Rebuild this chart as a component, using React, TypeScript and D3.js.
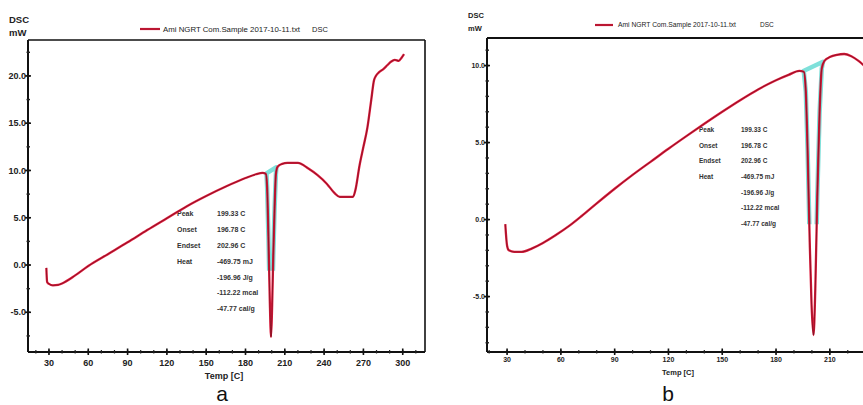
import React from "react";
import * as d3 from "d3";

// ---------- Data ----------
const tempsA = [28, 28.6, 30, 33, 37, 40, 50, 60, 75, 90, 105, 120, 135, 150, 165, 180, 188, 193, 195.5, 196.5, 197.5, 198.5, 199.5, 200.3, 201.2, 202.2, 203.2, 204.5, 208, 212, 220, 228, 235, 242, 248, 252, 258, 262, 264, 267, 270, 273, 276, 278, 279.5, 282, 285, 288, 291, 294, 297, 299, 301];
const valuesA = [-0.3, -1.8, -2.0, -2.15, -2.1, -1.95, -1.1, -0.1, 1.15, 2.4, 3.7, 4.95, 6.2, 7.3, 8.3, 9.2, 9.6, 9.75, 9.65, 8.2, 3.0, -3.5, -7.6, -4.5, 1.0, 6.0, 9.6, 10.4, 10.7, 10.8, 10.8, 10.2, 9.5, 8.6, 7.6, 7.2, 7.2, 7.2, 8.0, 10.5, 12.5, 14.5, 17.5, 19.5, 20.0, 20.4, 20.7, 21.1, 21.5, 21.7, 21.6, 21.9, 22.3];
const baseA_t = [196.0, 203.6];
const baseA_v = [9.7, 10.35];

const tempsB = [29, 30, 31, 34, 38, 44, 50, 57, 65, 72, 80, 90, 100, 110, 120, 130, 140, 150, 160, 170, 180, 187, 193, 195.5, 196.6, 197.6, 198.8, 199.8, 200.9, 201.9, 203, 204.3, 205.5, 207, 210, 214, 218, 222, 226, 230];
const valuesB = [-0.3, -1.7, -2.0, -2.1, -2.1, -1.87, -1.52, -1.02, -0.38, 0.27, 1.05, 2.0, 2.9, 3.75, 4.6, 5.42, 6.22, 7.0, 7.75, 8.45, 9.05, 9.4, 9.65, 9.6, 8.3, 4.5, -1.5, -5.5, -7.5, -4.5, 1.5, 7.0, 9.8, 10.3, 10.55, 10.7, 10.75, 10.6, 10.3, 9.9];
const baseB_t = [195.3, 206.2];
const baseB_v = [9.65, 10.25];

const xTicksA = [30, 60, 90, 120, 150, 180, 210, 240, 270, 300];
const yTicksA = [20, 15, 10, 5, 0, -5];
const yTickLabelsA = ["20.0", "15.0", "10.0", "5.0", "0.0", "-5.0"];
const xTicksB = [30, 60, 90, 120, 150, 180, 210];
const yTicksB = [10, 5, 0, -5];
const yTickLabelsB = ["10.0", "5.0", "0.0", "-5.0"];

const annLabels = ["Peak", "Onset", "Endset", "Heat"];
const annValues = ["199.33 C", "196.78 C", "202.96 C", "-469.75 mJ", "-196.96 J/g", "-112.22 mcal", "-47.77 cal/g"];

const legendText = "Ami NGRT Com.Sample 2017-10-11.txt";

// ---------- Layout ----------
const FONT = "Liberation Sans, Arial, sans-serif";

type PanelCfg = {
  id: string;
  temps: number[];
  values: number[];
  baseT: number[];
  baseV: number[];
  xTicks: number[];
  yTicks: number[];
  yLabels: string[];
  xDomain: [number, number];
  yDomain: [number, number];
  left: number; right: number; top: number; bottom: number;
  frameRight: boolean;
  tickFont: number;
  xMinorStep: number;
  yMinorStep: number;
  dsc: { x: number; y1: number; y2: number; size: number };
  legend: { x1: number; x2: number; y: number; tx: number; tlen: number; dscX: number; size: number };
  axisTitle: { x: number; y: number; size: number };
  letter: { ch: string; x: number; y: number };
  ann: { lx: number; vx: number; y0: number; dy: number; size: number };
  cyanCut: number;
  xLabelY: number;
};

const panels: PanelCfg[] = [
  {
    id: "a",
    temps: tempsA, values: valuesA, baseT: baseA_t, baseV: baseA_v,
    xTicks: xTicksA, yTicks: yTicksA, yLabels: yTickLabelsA,
    xDomain: [14, 317], yDomain: [-9.2, 23.8],
    left: 28, right: 425, top: 40, bottom: 352, frameRight: true,
    tickFont: 9, xMinorStep: 10, yMinorStep: 2.5,
    dsc: { x: 9, y1: 23, y2: 36, size: 9.5 },
    legend: { x1: 140, x2: 160, y: 29, tx: 163, tlen: 137, dscX: 312, size: 7.5 },
    axisTitle: { x: 224, y: 379, size: 9 },
    letter: { ch: "a", x: 222, y: 401 },
    ann: { lx: 177, vx: 217, y0: 214, dy: 15.8, size: 7 },
    cyanCut: -0.6,
    xLabelY: 366,
  },
  {
    id: "b",
    temps: tempsB, values: valuesB, baseT: baseB_t, baseV: baseB_v,
    xTicks: xTicksB, yTicks: yTicksB, yLabels: yTickLabelsB,
    xDomain: [18.8, 228.5], yDomain: [-8.6, 11.79],
    left: 487, right: 863, top: 38, bottom: 352, frameRight: false,
    tickFont: 7, xMinorStep: 10, yMinorStep: 1,
    dsc: { x: 468, y1: 18, y2: 31, size: 7.5 },
    legend: { x1: 595, x2: 613, y: 25, tx: 618, tlen: 118, dscX: 760, size: 6.5 },
    axisTitle: { x: 678, y: 375, size: 7.5 },
    letter: { ch: "b", x: 668, y: 401 },
    ann: { lx: 699, vx: 741, y0: 130, dy: 15.6, size: 6.5 },
    cyanCut: -0.3,
    xLabelY: 362,
  },
];

function Panel({ p }: { p: PanelCfg }) {
  const x = d3.scaleLinear().domain(p.xDomain).range([p.left, p.right]);
  const y = d3.scaleLinear().domain(p.yDomain).range([p.bottom, p.top]);
  const pts: [number, number][] = p.temps.map((t, i) => [t, p.values[i]]);
  const line = d3.line<[number, number]>().x((d) => x(d[0])).y((d) => y(d[1])).curve(d3.curveMonotoneX);
  const path = line(pts) || "";

  // integration region polygon between baseline and curve
  const inPeak = pts.filter((d) => d[0] > p.baseT[0] && d[0] < p.baseT[1]);
  const poly: [number, number][] = [[p.baseT[0], p.baseV[0]], ...inPeak, [p.baseT[1], p.baseV[1]]];
  const polyPath = d3.line<[number, number]>().x((d) => x(d[0])).y((d) => y(d[1]))(poly) + "Z";
  const baseline = d3.line<number>().x((t) => x(t)).y((_, i) => y(p.baseV[i]))(p.baseT) || "";

  const clipId = `cyanclip-${p.id}`;
  const plotClip = `plotclip-${p.id}`;

  const yMinor = d3.range(Math.ceil(p.yDomain[0] / p.yMinorStep) * p.yMinorStep, p.yDomain[1], p.yMinorStep);
  const xMinor = d3.range(Math.ceil(p.xDomain[0] / p.xMinorStep) * p.xMinorStep, p.xDomain[1], p.xMinorStep);

  return (
    <g>
      <defs>
        <clipPath id={clipId}>
          <rect x={p.left} y={p.top} width={p.right - p.left} height={y(p.cyanCut) - p.top} />
        </clipPath>
        <clipPath id={plotClip}>
          <rect x={p.left} y={p.top} width={p.right - p.left} height={p.bottom - p.top} />
        </clipPath>
      </defs>

      {/* frame */}
      <line x1={p.left} x2={p.right} y1={p.top} y2={p.top} stroke="#111" strokeWidth={p.frameRight ? 1.6 : 2.2} />
      {p.frameRight && <line x1={p.right} x2={p.right} y1={p.top} y2={p.bottom} stroke="#111" strokeWidth={1.6} />}
      <line x1={p.left} x2={p.left} y1={p.top} y2={p.bottom} stroke="#111" strokeWidth={2} />
      <line x1={p.left} x2={p.right} y1={p.bottom} y2={p.bottom} stroke="#111" strokeWidth={2} />

      {/* minor ticks */}
      {yMinor.map((v, i) => (
        <line key={`ym${i}`} x1={p.left - 1.5} x2={p.left + 2} y1={y(v)} y2={y(v)} stroke="#222" strokeWidth={1.4} />
      ))}
      {xMinor.map((t, i) => (
        <line key={`xm${i}`} x1={x(t)} x2={x(t)} y1={p.bottom - 2} y2={p.bottom + 1.5} stroke="#222" strokeWidth={1.2} />
      ))}

      {/* major ticks + labels */}
      {p.yTicks.map((v, i) => (
        <g key={`yt${i}`}>
          <line x1={p.left - 3} x2={p.left + 3} y1={y(v)} y2={y(v)} stroke="#111" strokeWidth={1.6} />
          <text x={p.left - 2} y={y(v)} dy="0.35em" textAnchor="end" fontFamily={FONT} fontSize={p.tickFont} fontWeight="bold" fill="#222">
            {p.yLabels[i]}
          </text>
        </g>
      ))}
      {p.xTicks.map((t, i) => (
        <g key={`xt${i}`}>
          <line x1={x(t)} x2={x(t)} y1={p.bottom - 3.5} y2={p.bottom + 3} stroke="#111" strokeWidth={1.6} />
          <text x={x(t)} y={p.xLabelY} textAnchor="middle" fontFamily={FONT} fontSize={p.tickFont} fontWeight="bold" fill="#222">
            {t}
          </text>
        </g>
      ))}

      {/* axis titles */}
      <text x={p.dsc.x} y={p.dsc.y1} fontFamily={FONT} fontSize={p.dsc.size} fontWeight="bold" fill="#222">DSC</text>
      <text x={p.dsc.x} y={p.dsc.y2} fontFamily={FONT} fontSize={p.dsc.size} fontWeight="bold" fill="#222">mW</text>
      <text x={p.axisTitle.x} y={p.axisTitle.y} textAnchor="middle" fontFamily={FONT} fontSize={p.axisTitle.size} fontWeight="bold" fill="#222">
        Temp  [C]
      </text>
      <text x={p.letter.x} y={p.letter.y} textAnchor="middle" fontFamily={FONT} fontSize={21} fill="#111">{p.letter.ch}</text>

      {/* legend */}
      <line x1={p.legend.x1} x2={p.legend.x2} y1={p.legend.y} y2={p.legend.y} stroke="#dd1a3c" strokeWidth={2.2} />
      <line x1={p.legend.x1} x2={p.legend.x2} y1={p.legend.y} y2={p.legend.y} stroke="#3a0a10" strokeWidth={0.7} strokeOpacity={0.6} />
      <text x={p.legend.tx} y={p.legend.y} dy="0.35em" fontFamily={FONT} fontSize={p.legend.size} fill="#222" textLength={p.legend.tlen} lengthAdjust="spacingAndGlyphs">
        {legendText}
      </text>
      <text x={p.legend.dscX} y={p.legend.y} dy="0.35em" fontFamily={FONT} fontSize={p.legend.size} fill="#222">DSC</text>

      {/* annotations */}
      {annLabels.map((s, i) => (
        <text key={`al${i}`} x={p.ann.lx} y={p.ann.y0 + i * p.ann.dy} dy="0.35em" fontFamily={FONT} fontSize={p.ann.size} fontWeight="bold" fill="#333">{s}</text>
      ))}
      {annValues.map((s, i) => (
        <text key={`av${i}`} x={p.ann.vx} y={p.ann.y0 + i * p.ann.dy} dy="0.35em" fontFamily={FONT} fontSize={p.ann.size} fontWeight="bold" fill="#333">{s}</text>
      ))}

      <g clipPath={`url(#${plotClip})`}>
        {/* cyan integration outline */}
        <g clipPath={`url(#${clipId})`}>
          <path d={polyPath} fill="none" stroke="#7fe0da" strokeWidth={4.5} strokeLinejoin="round" />
        </g>
        <path d={baseline} fill="none" stroke="#7fe0da" strokeWidth={2} />
        {/* main curve */}
        <path d={path} fill="none" stroke="#e01b3c" strokeWidth={2.3} strokeLinejoin="round" />
        <path d={path} fill="none" stroke="#3a0a10" strokeWidth={0.8} strokeOpacity={0.6} strokeLinejoin="round" />
      </g>
    </g>
  );
}

export default function App() {
  return (
    <svg width={863} height={405} style={{ position: "absolute", left: 0, top: 0, background: "#fff" }}>
      <rect x={0} y={0} width={863} height={405} fill="#fff" />
      {panels.map((p) => (
        <Panel key={p.id} p={p} />
      ))}
    </svg>
  );
}
